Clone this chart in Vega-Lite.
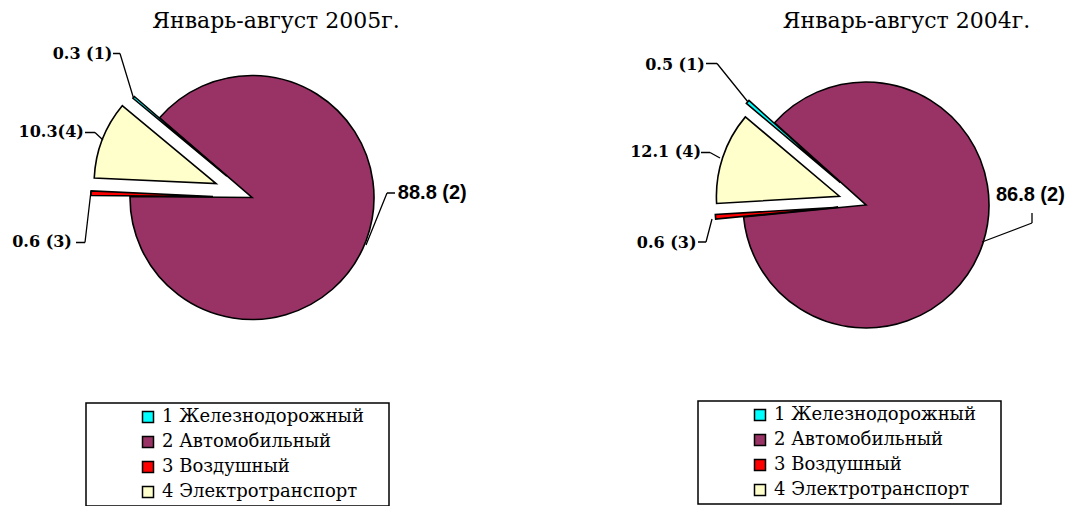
{
  "$schema": "https://vega.github.io/schema/vega-lite/v6.json",
  "padding": {"top": 10, "left": 0, "right": 0, "bottom": 0},
  "background": "white",
  "datasets": {
    "y2005": [
      {"id": 1, "name": "1 Железнодорожный", "value": 0.3, "label": "0.3 (1)"},
      {"id": 2, "name": "2 Автомобильный", "value": 88.8, "label": "88.8 (2)"},
      {"id": 3, "name": "3 Воздушный", "value": 0.6, "label": "0.6 (3)"},
      {"id": 4, "name": "4 Электротранспорт", "value": 10.3, "label": "10.3(4)"}
    ],
    "y2004": [
      {"id": 1, "name": "1 Железнодорожный", "value": 0.5, "label": "0.5 (1)"},
      {"id": 2, "name": "2 Автомобильный", "value": 86.8, "label": "86.8 (2)"},
      {"id": 3, "name": "3 Воздушный", "value": 0.6, "label": "0.6 (3)"},
      {"id": 4, "name": "4 Электротранспорт", "value": 12.1, "label": "12.1 (4)"}
    ]
  },
  "bounds": "flush",
  "spacing": 161,
  "resolve": {"scale": {"color": "independent", "theta": "independent"}, "legend": {"color": "independent"}},
  "hconcat": [
    {
      "width": 504,
      "height": 315,
      "title": {"text": "Январь-август 2005г.", "dx": 24, "offset": 7},
      "data": {"name": "y2005"},
      "transform": [
        {"stack": "value", "groupby": [], "sort": [{"field": "id"}], "as": ["v0", "v1"]},
        {"calculate": "(datum.v0 + datum.v1) / 2", "as": "mid"}
      ],
      "layer": [
        {
          "transform": [{"filter": "datum.id == 2"}],
          "mark": {"type": "arc", "radius": 122, "stroke": "black", "strokeWidth": 1.6},
          "encoding": {
            "theta": {"field": "v0", "type": "quantitative", "stack": null, "scale": {"domain": [0, 100], "range": [-0.8779, 5.40529]}},
            "theta2": {"field": "v1"},
            "color": {"field": "name", "type": "nominal",
              "scale": {"domain": ["1 Железнодорожный", "2 Автомобильный", "3 Воздушный", "4 Электротранспорт"], "range": ["#00FFFF", "#993366", "#FF0000", "#FFFFCC"]},
              "legend": {"orient": "none", "legendX": 86, "legendY": 363, "title": "\u00a0", "titleOrient": "right", "titlePadding": 20, "symbolOffset": 48}}
          }
        },
        {
          "transform": [{"filter": "datum.id == 1"}],
          "mark": {"type": "arc", "radius": 122, "stroke": "black", "strokeWidth": 1.6, "xOffset": -25.2, "yOffset": -21.3},
          "encoding": {
            "theta": {"field": "v0", "type": "quantitative", "stack": null, "scale": {"domain": [0, 100], "range": [-0.8779, 5.40529]}},
            "theta2": {"field": "v1"},
            "color": {"field": "name", "type": "nominal"}
          }
        },
        {
          "transform": [{"filter": "datum.id == 3"}],
          "mark": {"type": "arc", "radius": 122, "stroke": "black", "strokeWidth": 1.6, "xOffset": -39, "yOffset": -1.05},
          "encoding": {
            "theta": {"field": "v0", "type": "quantitative", "stack": null, "scale": {"domain": [0, 100], "range": [-0.8779, 5.40529]}},
            "theta2": {"field": "v1"},
            "color": {"field": "name", "type": "nominal"}
          }
        },
        {
          "transform": [{"filter": "datum.id == 4"}],
          "mark": {"type": "arc", "radius": 122, "stroke": "black", "strokeWidth": 1.6, "xOffset": -35.9, "yOffset": -13.9},
          "encoding": {
            "theta": {"field": "v0", "type": "quantitative", "stack": null, "scale": {"domain": [0, 100], "range": [-0.8779, 5.40529]}},
            "theta2": {"field": "v1"},
            "color": {"field": "name", "type": "nominal"}
          }
        },
        {
          "transform": [{"filter": "datum.id == 1"}],
          "mark": {"type": "arc", "filled": false, "stroke": "black", "strokeWidth": 1.3, "radius": 46.5, "radius2": 0, "thetaOffset": 0.5735, "theta2Offset": 0.5735, "xOffset": -118.5, "yOffset": -99.5},
          "encoding": {"theta": {"field": "mid", "type": "quantitative", "stack": null, "scale": {"domain": [0, 100], "range": [-0.8779, 5.40529]}}, "theta2": {"field": "mid"}}
        },
        {
          "transform": [{"filter": "datum.id == 1"}],
          "mark": {"type": "arc", "filled": false, "stroke": "black", "strokeWidth": 1.3, "radius": 7, "radius2": 0, "thetaOffset": -0.7023, "theta2Offset": -0.7023, "xOffset": -132, "yOffset": -144},
          "encoding": {"theta": {"field": "mid", "type": "quantitative", "stack": null, "scale": {"domain": [0, 100], "range": [-0.8779, 5.40529]}}, "theta2": {"field": "mid"}}
        },
        {
          "transform": [{"filter": "datum.id == 4"}],
          "mark": {"type": "arc", "filled": false, "stroke": "black", "strokeWidth": 1.3, "radius": 11, "radius2": 0, "thetaOffset": 0.3847, "theta2Offset": 0.3847, "xOffset": -149, "yOffset": -57.5},
          "encoding": {"theta": {"field": "mid", "type": "quantitative", "stack": null, "scale": {"domain": [0, 100], "range": [-0.8779, 5.40529]}}, "theta2": {"field": "mid"}}
        },
        {
          "transform": [{"filter": "datum.id == 4"}],
          "mark": {"type": "arc", "filled": false, "stroke": "black", "strokeWidth": 1.3, "radius": 10, "radius2": 0, "thetaOffset": -0.3693, "theta2Offset": -0.3693, "xOffset": -157, "yOffset": -65},
          "encoding": {"theta": {"field": "mid", "type": "quantitative", "stack": null, "scale": {"domain": [0, 100], "range": [-0.8779, 5.40529]}}, "theta2": {"field": "mid"}}
        },
        {
          "transform": [{"filter": "datum.id == 3"}],
          "mark": {"type": "arc", "filled": false, "stroke": "black", "strokeWidth": 1.3, "radius": 51.85, "radius2": 0, "thetaOffset": -1.4816, "theta2Offset": -1.4816, "xOffset": -161, "yOffset": -6.5},
          "encoding": {"theta": {"field": "mid", "type": "quantitative", "stack": null, "scale": {"domain": [0, 100], "range": [-0.8779, 5.40529]}}, "theta2": {"field": "mid"}}
        },
        {
          "transform": [{"filter": "datum.id == 3"}],
          "mark": {"type": "arc", "filled": false, "stroke": "black", "strokeWidth": 1.3, "radius": 9, "radius2": 0, "thetaOffset": -0.0269, "theta2Offset": -0.0269, "xOffset": -167, "yOffset": 45},
          "encoding": {"theta": {"field": "mid", "type": "quantitative", "stack": null, "scale": {"domain": [0, 100], "range": [-0.8779, 5.40529]}}, "theta2": {"field": "mid"}}
        },
        {
          "transform": [{"filter": "datum.id == 2"}],
          "mark": {"type": "arc", "filled": false, "stroke": "black", "strokeWidth": 1.3, "radius": 56.1, "radius2": 0, "thetaOffset": -1.5467, "theta2Offset": -1.5467, "xOffset": 114, "yOffset": 47.5},
          "encoding": {"theta": {"field": "mid", "type": "quantitative", "stack": null, "scale": {"domain": [0, 100], "range": [-0.8779, 5.40529]}}, "theta2": {"field": "mid"}}
        },
        {
          "transform": [{"filter": "datum.id == 2"}],
          "mark": {"type": "arc", "filled": false, "stroke": "black", "strokeWidth": 1.3, "radius": 8, "radius2": 0, "thetaOffset": -0.3599, "theta2Offset": -0.3599, "xOffset": 135, "yOffset": -4.5},
          "encoding": {"theta": {"field": "mid", "type": "quantitative", "stack": null, "scale": {"domain": [0, 100], "range": [-0.8779, 5.40529]}}, "theta2": {"field": "mid"}}
        },
        {
          "transform": [{"filter": "datum.id == 1"}],
          "mark": {"type": "text", "radius": 222, "dx": 0, "dy": 0, "font": "DejaVu Serif", "fontSize": 16, "fontWeight": "bold", "align": "center", "baseline": "middle", "color": "black"},
          "encoding": {"theta": {"field": "mid", "type": "quantitative", "stack": null, "scale": {"domain": [0, 100], "range": [-0.8779, 5.40529]}}, "text": {"field": "label"}}
        },
        {
          "transform": [{"filter": "datum.id == 4"}],
          "mark": {"type": "text", "radius": 211, "dx": -4, "dy": 11, "font": "DejaVu Serif", "fontSize": 16, "fontWeight": "bold", "align": "center", "baseline": "middle", "color": "black"},
          "encoding": {"theta": {"field": "mid", "type": "quantitative", "stack": null, "scale": {"domain": [0, 100], "range": [-0.8779, 5.40529]}}, "text": {"field": "label"}}
        },
        {
          "transform": [{"filter": "datum.id == 3"}],
          "mark": {"type": "text", "radius": 209, "dx": -1, "dy": 50, "font": "DejaVu Serif", "fontSize": 16, "fontWeight": "bold", "align": "center", "baseline": "middle", "color": "black"},
          "encoding": {"theta": {"field": "mid", "type": "quantitative", "stack": null, "scale": {"domain": [0, 100], "range": [-0.8779, 5.40529]}}, "text": {"field": "label"}}
        },
        {
          "transform": [{"filter": "datum.id == 2"}],
          "mark": {"type": "text", "radius": 167, "dx": 24, "dy": -63, "font": "Liberation Sans", "fontSize": 20, "fontWeight": "bold", "align": "center", "baseline": "middle", "color": "black"},
          "encoding": {"theta": {"field": "mid", "type": "quantitative", "stack": null, "scale": {"domain": [0, 100], "range": [-0.8779, 5.40529]}}, "text": {"field": "label"}}
        }
      ]
    },
    {
      "width": 402,
      "height": 330,
      "title": {"text": "Январь-август 2004г.", "dx": 40.5, "offset": 7},
      "data": {"name": "y2004"},
      "transform": [
        {"stack": "value", "groupby": [], "sort": [{"field": "id"}], "as": ["v0", "v1"]},
        {"calculate": "(datum.v0 + datum.v1) / 2", "as": "mid"}
      ],
      "layer": [
        {
          "transform": [{"filter": "datum.id == 2"}],
          "mark": {"type": "arc", "radius": 123, "stroke": "black", "strokeWidth": 1.6},
          "encoding": {
            "theta": {"field": "v0", "type": "quantitative", "stack": null, "scale": {"domain": [0, 100], "range": [-0.87004, 5.41315]}},
            "theta2": {"field": "v1"},
            "color": {"field": "name", "type": "nominal",
              "scale": {"domain": ["1 Железнодорожный", "2 Автомобильный", "3 Воздушный", "4 Электротранспорт"], "range": ["#00FFFF", "#993366", "#FF0000", "#FFFFCC"]},
              "legend": {"orient": "none", "legendX": 33, "legendY": 361, "title": "\u00a0", "titleOrient": "right", "titlePadding": 20, "symbolOffset": 48}}
          }
        },
        {
          "transform": [{"filter": "datum.id == 1"}],
          "mark": {"type": "arc", "radius": 123, "stroke": "black", "strokeWidth": 1.6, "xOffset": -25.6, "yOffset": -22.3},
          "encoding": {
            "theta": {"field": "v0", "type": "quantitative", "stack": null, "scale": {"domain": [0, 100], "range": [-0.87004, 5.41315]}},
            "theta2": {"field": "v1"},
            "color": {"field": "name", "type": "nominal"}
          }
        },
        {
          "transform": [{"filter": "datum.id == 3"}],
          "mark": {"type": "arc", "radius": 123, "stroke": "black", "strokeWidth": 1.6, "xOffset": -27.9, "yOffset": 2.2},
          "encoding": {
            "theta": {"field": "v0", "type": "quantitative", "stack": null, "scale": {"domain": [0, 100], "range": [-0.87004, 5.41315]}},
            "theta2": {"field": "v1"},
            "color": {"field": "name", "type": "nominal"}
          }
        },
        {
          "transform": [{"filter": "datum.id == 4"}],
          "mark": {"type": "arc", "radius": 123, "stroke": "black", "strokeWidth": 1.6, "xOffset": -26.6, "yOffset": -8.8},
          "encoding": {
            "theta": {"field": "v0", "type": "quantitative", "stack": null, "scale": {"domain": [0, 100], "range": [-0.87004, 5.41315]}},
            "theta2": {"field": "v1"},
            "color": {"field": "name", "type": "nominal"}
          }
        },
        {
          "transform": [{"filter": "datum.id == 1"}],
          "mark": {"type": "arc", "filled": false, "stroke": "black", "strokeWidth": 1.3, "radius": 49.4, "radius2": 0, "thetaOffset": 0.1765, "theta2Offset": 0.1765, "xOffset": -118, "yOffset": -103},
          "encoding": {"theta": {"field": "mid", "type": "quantitative", "stack": null, "scale": {"domain": [0, 100], "range": [-0.87004, 5.41315]}}, "theta2": {"field": "mid"}}
        },
        {
          "transform": [{"filter": "datum.id == 1"}],
          "mark": {"type": "arc", "filled": false, "stroke": "black", "strokeWidth": 1.3, "radius": 11, "radius2": 0, "thetaOffset": -0.7165, "theta2Offset": -0.7165, "xOffset": -149, "yOffset": -141.5},
          "encoding": {"theta": {"field": "mid", "type": "quantitative", "stack": null, "scale": {"domain": [0, 100], "range": [-0.87004, 5.41315]}}, "theta2": {"field": "mid"}}
        },
        {
          "transform": [{"filter": "datum.id == 4"}],
          "mark": {"type": "arc", "filled": false, "stroke": "black", "strokeWidth": 1.3, "radius": 11.4, "radius2": 0, "thetaOffset": 0.182, "theta2Offset": 0.182, "xOffset": -146, "yOffset": -47},
          "encoding": {"theta": {"field": "mid", "type": "quantitative", "stack": null, "scale": {"domain": [0, 100], "range": [-0.87004, 5.41315]}}, "theta2": {"field": "mid"}}
        },
        {
          "transform": [{"filter": "datum.id == 4"}],
          "mark": {"type": "arc", "filled": false, "stroke": "black", "strokeWidth": 1.3, "radius": 9, "radius2": 0, "thetaOffset": -0.3206, "theta2Offset": -0.3206, "xOffset": -156, "yOffset": -52.5},
          "encoding": {"theta": {"field": "mid", "type": "quantitative", "stack": null, "scale": {"domain": [0, 100], "range": [-0.87004, 5.41315]}}, "theta2": {"field": "mid"}}
        },
        {
          "transform": [{"filter": "datum.id == 3"}],
          "mark": {"type": "arc", "filled": false, "stroke": "black", "strokeWidth": 1.3, "radius": 23.8, "radius2": 0, "thetaOffset": -1.2376, "theta2Offset": -1.2376, "xOffset": -154, "yOffset": 14},
          "encoding": {"theta": {"field": "mid", "type": "quantitative", "stack": null, "scale": {"domain": [0, 100], "range": [-0.87004, 5.41315]}}, "theta2": {"field": "mid"}}
        },
        {
          "transform": [{"filter": "datum.id == 3"}],
          "mark": {"type": "arc", "filled": false, "stroke": "black", "strokeWidth": 1.3, "radius": 8, "radius2": 0, "thetaOffset": 0.0784, "theta2Offset": 0.0784, "xOffset": -160, "yOffset": 37},
          "encoding": {"theta": {"field": "mid", "type": "quantitative", "stack": null, "scale": {"domain": [0, 100], "range": [-0.87004, 5.41315]}}, "theta2": {"field": "mid"}}
        },
        {
          "transform": [{"filter": "datum.id == 2"}],
          "mark": {"type": "arc", "filled": false, "stroke": "black", "strokeWidth": 1.3, "radius": 53.5, "radius2": 0, "thetaOffset": -0.6805, "theta2Offset": -0.6805, "xOffset": 116, "yOffset": 37},
          "encoding": {"theta": {"field": "mid", "type": "quantitative", "stack": null, "scale": {"domain": [0, 100], "range": [-0.87004, 5.41315]}}, "theta2": {"field": "mid"}}
        },
        {
          "transform": [{"filter": "datum.id == 2"}],
          "mark": {"type": "arc", "filled": false, "stroke": "black", "strokeWidth": 1.3, "radius": 10, "radius2": 0, "thetaOffset": -1.8883, "theta2Offset": -1.8883, "xOffset": 166, "yOffset": 18},
          "encoding": {"theta": {"field": "mid", "type": "quantitative", "stack": null, "scale": {"domain": [0, 100], "range": [-0.87004, 5.41315]}}, "theta2": {"field": "mid"}}
        },
        {
          "transform": [{"filter": "datum.id == 1"}],
          "mark": {"type": "text", "radius": 236, "dx": -13, "dy": 14.5, "font": "DejaVu Serif", "fontSize": 16, "fontWeight": "bold", "align": "center", "baseline": "middle", "color": "black"},
          "encoding": {"theta": {"field": "mid", "type": "quantitative", "stack": null, "scale": {"domain": [0, 100], "range": [-0.87004, 5.41315]}}, "text": {"field": "label"}}
        },
        {
          "transform": [{"filter": "datum.id == 4"}],
          "mark": {"type": "text", "radius": 207, "dx": -4, "dy": 12, "font": "DejaVu Serif", "fontSize": 16, "fontWeight": "bold", "align": "center", "baseline": "middle", "color": "black"},
          "encoding": {"theta": {"field": "mid", "type": "quantitative", "stack": null, "scale": {"domain": [0, 100], "range": [-0.87004, 5.41315]}}, "text": {"field": "label"}}
        },
        {
          "transform": [{"filter": "datum.id == 3"}],
          "mark": {"type": "text", "radius": 202, "dx": 2, "dy": 22, "font": "DejaVu Serif", "fontSize": 16, "fontWeight": "bold", "align": "center", "baseline": "middle", "color": "black"},
          "encoding": {"theta": {"field": "mid", "type": "quantitative", "stack": null, "scale": {"domain": [0, 100], "range": [-0.87004, 5.41315]}}, "text": {"field": "label"}}
        },
        {
          "transform": [{"filter": "datum.id == 2"}],
          "mark": {"type": "text", "radius": 153, "dx": 19, "dy": -58, "font": "Liberation Sans", "fontSize": 20, "fontWeight": "bold", "align": "center", "baseline": "middle", "color": "black"},
          "encoding": {"theta": {"field": "mid", "type": "quantitative", "stack": null, "scale": {"domain": [0, 100], "range": [-0.87004, 5.41315]}}, "text": {"field": "label"}}
        }
      ]
    }
  ],
  "config": {
    "view": {"stroke": null},
    "title": {"font": "DejaVu Serif", "fontSize": 22, "fontWeight": "normal", "color": "black", "anchor": "middle"},
    "legend": {
      "strokeColor": "black", "strokeWidth": 1.5, "fillColor": "white", "padding": 5,
      "labelFont": "DejaVu Serif", "labelFontSize": 18, "labelColor": "black", "labelLimit": 400,
      "symbolType": "square", "symbolSize": 121, "symbolStrokeColor": "black", "symbolStrokeWidth": 1.5, "symbolOpacity": 1,
      "rowPadding": 7, "labelOffset": 5, "titleFont": "DejaVu Serif", "titleFontSize": 16
    }
  }
}
